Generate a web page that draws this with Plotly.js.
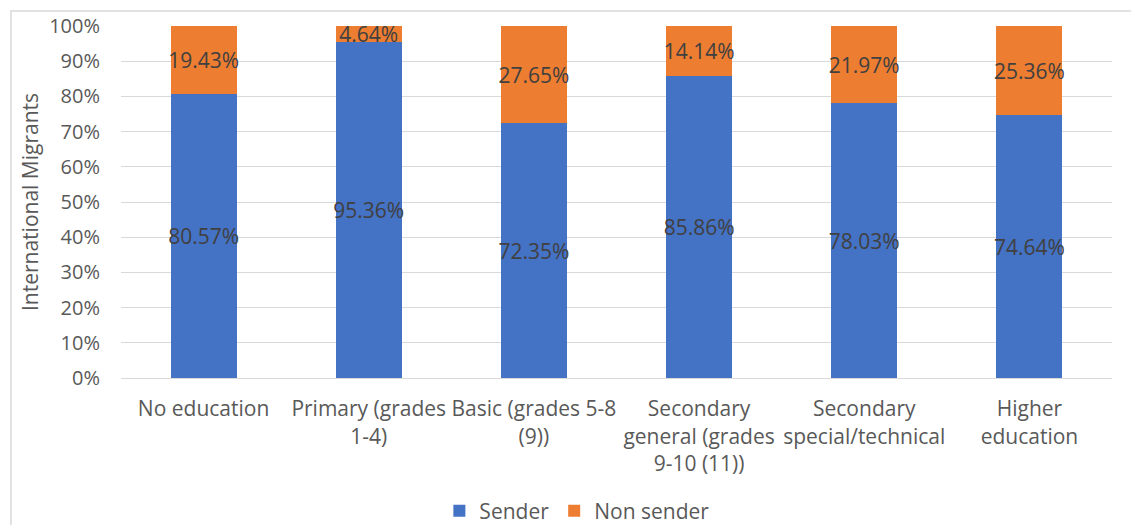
<!DOCTYPE html>
<html>
<head>
<meta charset="utf-8">
<script src="https://cdn.plot.ly/plotly-3.0.1.min.js"></script>
<style>
html,body{margin:0;padding:0;background:#fff;}
#chart{width:1131px;height:525px;}
</style>
</head>
<body>
<div id="chart"></div>
<script>
var categories = ["No education", "Primary (grades 1-4)", "Basic (grades 5-8 (9))", "Secondary general (grades 9-10 (11))", "Secondary special/technical", "Higher education"];
var tickLabels = ["No education", "Primary (grades<br>1-4)", "Basic (grades 5-8<br>(9))", "Secondary<br>general (grades<br>9-10 (11))", "Secondary<br>special/technical", "Higher<br>education"];
var sender = [80.57, 95.36, 72.35, 85.86, 78.03, 74.64];
var nonSender = [19.43, 4.64, 27.65, 14.14, 21.97, 25.36];
var yTickVals = [0, 10, 20, 30, 40, 50, 60, 70, 80, 90, 100];
var yTickText = ["0%", "10%", "20%", "30%", "40%", "50%", "60%", "70%", "80%", "90%", "100%"];

var FONT = "Open Sans, sans-serif";
var labelFont = {family: FONT, size: 21, color: "#404040"};

var traces = [
  {
    type: "bar", name: "Sender", x: categories, y: sender,
    marker: {color: "#4472C4"},
    text: sender.map(function(v){return v.toFixed(2) + "%";}),
    textposition: "inside", insidetextanchor: "middle", constraintext: "none",
    textfont: labelFont, textangle: 0, hoverinfo: "x+y"
  },
  {
    type: "bar", name: "Non sender", x: categories, y: nonSender,
    marker: {color: "#ED7D31"},
    text: nonSender.map(function(v){return v.toFixed(2) + "%";}),
    textposition: "inside", insidetextanchor: "middle", constraintext: "none",
    textfont: labelFont, textangle: 0, hoverinfo: "x+y"
  }
];

var layout = {
  width: 1131, height: 525,
  barmode: "stack",
  bargap: 0.6,
  margin: {l: 121, r: 19, t: 26, b: 147, autoexpand: false},
  paper_bgcolor: "#ffffff",
  plot_bgcolor: "#ffffff",
  font: {family: FONT, size: 20, color: "#595959"},
  showlegend: true,
  legend: {
    orientation: "h", x: 0.460, xanchor: "center", y: -0.378, yanchor: "middle",
    font: {family: FONT, size: 21, color: "#595959"},
    traceorder: "normal", itemwidth: 30
  },
  xaxis: {
    type: "category",
    tickmode: "array", tickvals: categories, ticktext: tickLabels,
    tickfont: {family: FONT, size: 21, color: "#595959"},
    showgrid: false, zeroline: false,
    showline: true, linecolor: "#D9D9D9", linewidth: 1,
    ticks: "", ticklabelstandoff: 12, automargin: false
  },
  yaxis: {
    range: [0, 100], tickmode: "array", tickvals: yTickVals, ticktext: yTickText,
    tickfont: {family: FONT, size: 20, color: "#595959"},
    showgrid: true, gridcolor: "#D9D9D9", gridwidth: 1,
    zeroline: false, showline: false, ticks: "", ticklabelstandoff: 20, automargin: false,
    title: {text: "International Migrants", font: {family: FONT, size: 21, color: "#595959"}, standoff: 4}
  },
  shapes: [
    {type: "rect", xref: "paper", yref: "paper", x0: -0.111, x1: 1.2, y0: -1, y1: 1.0426,
     line: {color: "#D9D9D9", width: 1.5}, fillcolor: "rgba(0,0,0,0)", layer: "below"}
  ]
};

Plotly.newPlot("chart", traces, layout, {displayModeBar: false, staticPlot: true});
</script>
</body>
</html>
